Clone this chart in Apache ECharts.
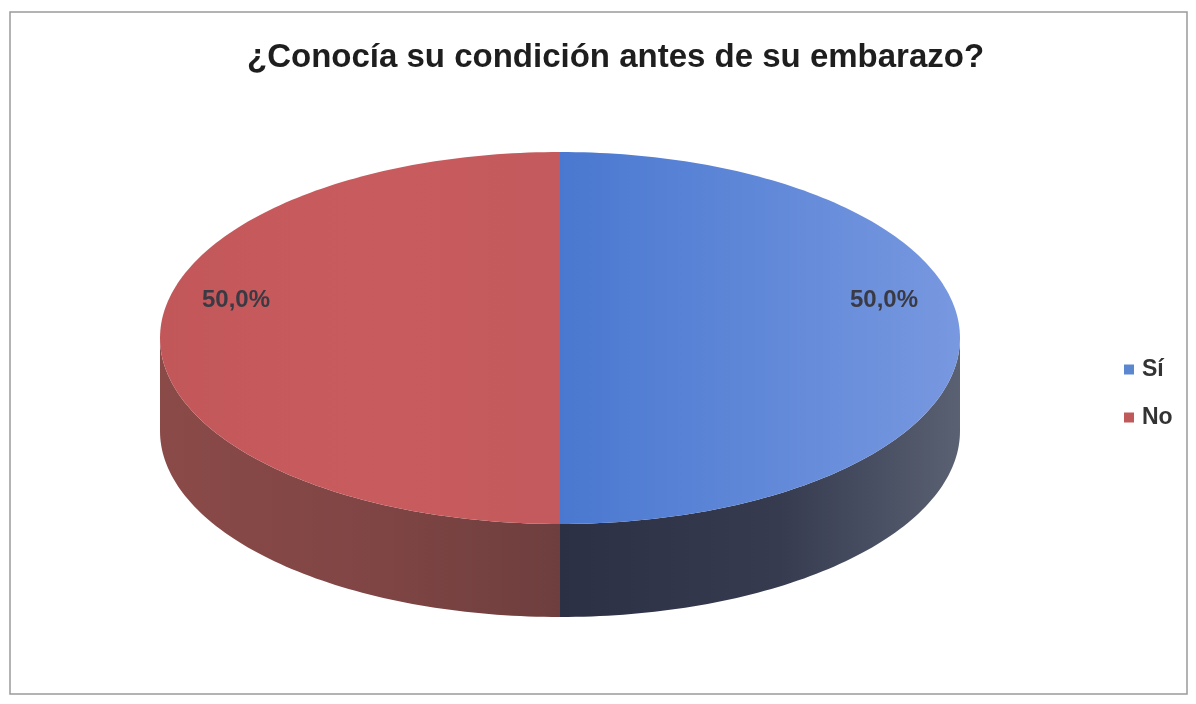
<!DOCTYPE html>
<html>
<head>
<meta charset="utf-8">
<script src="https://cdn.jsdelivr.net/npm/echarts@6/dist/echarts.min.js"></script>
<style>
  html, body { margin: 0; padding: 0; background: #ffffff; }
  #chart { width: 1196px; height: 704px; }
</style>
</head>
<body>
<div id="chart"></div>
<script>
// Survey answers, in percent
const categories = ['Sí', 'No'];
const values = [50, 50];

const titleText = '¿Conocía su condición antes de su embarazo?';

// Colours for each slice: top face gradient and side wall gradient
const topColors = [
  ['#4a78d0', '#6088d8', '#7898e0'],
  ['#c2575a', '#c85b5e', '#c45a5d']
];
const sideColors = [
  ['#2c3044', '#363b50', '#5a6172'],
  ['#8a4a48', '#7f4544', '#6e3e3e']
];
const legendColors = ['#5b86d0', '#c05a5a'];

const total = values.reduce((a, b) => a + b, 0);

// Pie geometry (pixels): ellipse centre, radii and extrusion depth
const geo = { cx: 560, cy: 338, rx: 400, ry: 186, depth: 93 };

function pt(theta, dy) {
  return [geo.cx + geo.rx * Math.sin(theta), geo.cy - geo.ry * Math.cos(theta) + (dy || 0)];
}

function arc(a, b, dy) {
  const pts = [];
  const n = Math.max(8, Math.ceil(Math.abs(b - a) / 0.02));
  for (let i = 0; i <= n; i++) pts.push(pt(a + (b - a) * i / n, dy));
  return pts;
}

function makeRender(idx) {
  return function (params, api) {
    const v = api.value(0);
    let before = 0;
    for (let i = 0; i < idx; i++) before += values[i];
    const a = before / total * Math.PI * 2;
    const b = (before + v) / total * Math.PI * 2;
    const children = [];

    // side wall: only the front half of the rim is visible
    const s = Math.max(a, Math.PI / 2);
    const e = Math.min(b, Math.PI * 3 / 2);
    if (e > s) {
      const topArc = arc(s, e, 0);
      const botArc = arc(e, s, geo.depth);
      children.push({
        type: 'polygon',
        shape: { points: topArc.concat(botArc) },
        style: {
          fill: new echarts.graphic.LinearGradient(0, 0, 1, 0, [
            { offset: 0, color: sideColors[idx][0] },
            { offset: 0.55, color: sideColors[idx][1] },
            { offset: 1, color: sideColors[idx][2] }
          ])
        }
      });
    }

    // top face
    const topPts = [[geo.cx, geo.cy]].concat(arc(a, b, 0));
    children.push({
      type: 'polygon',
      shape: { points: topPts },
      style: {
        fill: new echarts.graphic.LinearGradient(0, 0, 1, 0, [
          { offset: 0, color: topColors[idx][0] },
          { offset: 0.5, color: topColors[idx][1] },
          { offset: 1, color: topColors[idx][2] }
        ])
      }
    });

    // percentage label
    const mid = (a + b) / 2;
    const lp = [geo.cx + geo.rx * 0.81 * Math.sin(mid), geo.cy - geo.ry * 0.81 * Math.cos(mid) - 38];
    children.push({
      type: 'text',
      x: lp[0], y: lp[1],
      style: {
        text: (v / total * 100).toFixed(1).replace('.', ',') + '%',
        fill: '#3a3a44',
        font: 'bold 24px "Liberation Sans", Arial, sans-serif',
        align: 'center',
        verticalAlign: 'middle'
      }
    });

    return { type: 'group', children: children };
  };
}

const chart = echarts.init(document.getElementById('chart'), null, { renderer: 'canvas' });

chart.setOption({
  backgroundColor: '#ffffff',
  animation: false,
  title: {
    text: titleText,
    left: 242,
    top: 36,
    textStyle: {
      fontFamily: '"Liberation Sans", Arial, sans-serif',
      fontWeight: 'bold',
      fontSize: 33,
      color: '#1e1e1e'
    }
  },
  legend: {
    orient: 'vertical',
    left: 1119,
    top: 353,
    itemWidth: 10,
    itemHeight: 10,
    itemGap: 25,
    icon: 'rect',
    data: categories,
    textStyle: {
      fontFamily: '"Liberation Sans", Arial, sans-serif',
      fontWeight: 'bold',
      fontSize: 23,
      color: '#333333',
      padding: [0, 0, 0, 3]
    }
  },
  graphic: [{
    type: 'rect',
    shape: { x: 10, y: 12, width: 1177, height: 682 },
    style: { fill: 'none', stroke: '#9a9a9a', lineWidth: 1.5 },
    silent: true
  }],
  series: categories.map((name, i) => ({
    type: 'custom',
    name: name,
    coordinateSystem: 'none',
    itemStyle: { color: legendColors[i] },
    renderItem: makeRender(i),
    data: [[values[i]]]
  }))
});
</script>
</body>
</html>
